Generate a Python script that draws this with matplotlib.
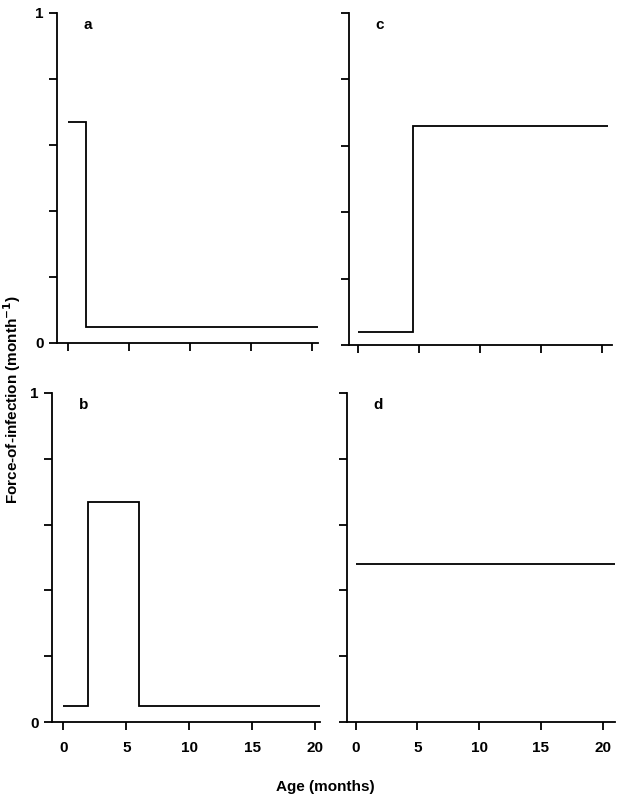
import matplotlib
matplotlib.use("Agg")
import matplotlib.pyplot as plt

plt.rcParams['font.family'] = ['Liberation Sans', 'DejaVu Sans']

# step functions: breakpoints (age, months) and values (force of infection)
a_x = [0, 1.5, 20.5]; a_y = [0.67, 0.05]
b_x = [0, 2, 6, 20.5]; b_y = [0.05, 0.67, 0.05]
c_x = [0, 4.5, 20.5]; c_y = [0.04, 0.66]
d_x = [0, 21]; d_y = [0.48]
labels = ['a', 'b', 'c', 'd']
xticks = [0, 5, 10, 15, 20]
yticks = [0, 0.2, 0.4, 0.6, 0.8, 1.0]

W, H = 621, 800
fig = plt.figure(figsize=(W/100, H/100), dpi=100)

def rect(l, r, t, b):
    return [l/W, 1-b/H, (r-l)/W, (b-t)/H]

specs = [
    (a_x, a_y, 'a', rect(57, 318, 13, 343), (-0.9, 20.5), True, False),
    (c_x, c_y, 'c', rect(349, 612, 13, 345), (-0.7, 20.8), False, False),
    (b_x, b_y, 'b', rect(52, 320, 393, 722), (-0.9, 20.4), True, True),
    (d_x, d_y, 'd', rect(347, 615, 393, 722), (-0.7, 21.0), False, True),
]

for xs, ys, lab, r, xl, ylab, xlab in specs:
    ax = fig.add_axes(r)
    ax.stairs(ys, xs, baseline=None, color='black', lw=1.3)
    ax.set_xlim(*xl)
    ax.set_ylim(0, 1)
    for s in ['top', 'right']:
        ax.spines[s].set_visible(False)
    for s in ['left', 'bottom']:
        ax.spines[s].set_linewidth(1.3)
    ax.set_xticks(xticks)
    ax.set_yticks(yticks)
    ax.tick_params(direction='out', length=6, width=1.3, labelsize=11)
    if xlab:
        ax.set_xticklabels([str(t) for t in xticks], fontweight='bold')
        ax.tick_params(axis='x', pad=8)
    else:
        ax.set_xticklabels([])
    if ylab:
        ax.set_yticklabels(['0', '', '', '', '', '1'], fontweight='bold')
    else:
        ax.set_yticklabels([])
    ax.text(0.1, 0.985, lab, transform=ax.transAxes, fontsize=11,
            fontweight='bold', va='top')

fig.text(12/W, 1-400/H, 'Force-of-infection (month$^{\\mathbf{-1}}$)', rotation=90,
         ha='center', va='center', fontsize=11, fontweight='bold')
fig.text(325/W, 1-787/H, 'Age (months)', ha='center', va='center',
         fontsize=11, fontweight='bold')

fig.savefig('out.png', dpi=100)
